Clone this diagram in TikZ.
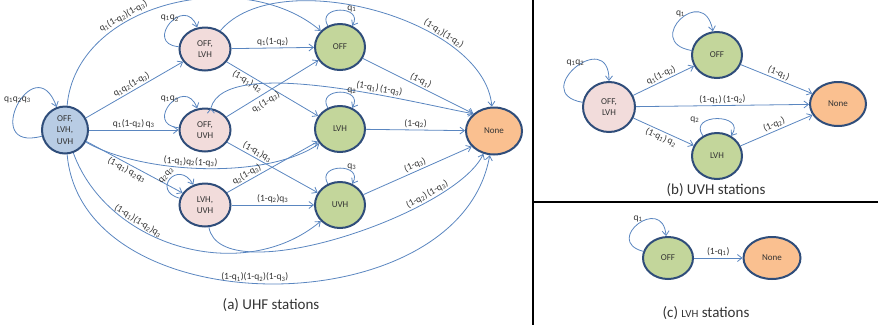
\documentclass[tikz,border=0pt]{standalone}
\usepackage{fontspec}
\setmainfont{Carlito}
\usetikzlibrary{arrows.meta,shapes.geometric}
\definecolor{rim}{HTML}{2F4D7A}
\definecolor{wire}{HTML}{5A86C0}
\definecolor{fillall}{HTML}{B8CCE4}
\definecolor{fillpair}{HTML}{F2DCDB}
\definecolor{fillone}{HTML}{C3D69B}
\definecolor{fillnone}{HTML}{FAC090}
\newcommand{\qs}[1]{q\textsubscript{#1}}

\begin{document}
\begin{tikzpicture}[x=1pt,y=-1pt,>={Straight Barb[length=4.5pt,width=7pt]}]
    \tikzset{state/.style={draw=rim, ellipse, line width=2pt, align=center, inner sep=0pt, text=black!80, font=\fontsize{9}{11.5}\selectfont},
    all/.style={state, fill=fillall, minimum width=46, minimum height=47},
    pair/.style={state, fill=fillpair, minimum width=51, minimum height=43},
    one/.style={state, fill=fillone, minimum width=50, minimum height=46},
    empty/.style={state, fill=fillnone, minimum width=56, minimum height=47},
    caption/.style={text=black!80, font=\fontsize{15}{18}\selectfont},
    }
    \useasboundingbox (0,0) rectangle (878,325);
    %% (a) UHF stations
    \node [all]  (a123) at (65,130) {OFF,\\LVH,\\UVH};
    \node [pair] (a12) at (205,49) {OFF,\\LVH};
    \node [pair] (a13) at (205,130) {OFF,\\UVH};
    \node [pair] (a23) at (205,205) {LVH,\\UVH};
    \node [one]  (aoff) at (340,47) {OFF};
    \node [one]  (alvh) at (340,129) {LVH};
    \node [one]  (auvh) at (340,205) {UVH};
    \node [empty] (anone) at (494,131) {None};
    \node [caption] (acap) at (271,305) {(a) UHF stations};
    %% (b) UVH stations
    \node [pair, minimum width=52, minimum height=50] (b12) at (609,107) {OFF,\\LVH};
    \node [one]  (boff) at (717,55) {OFF};
    \node [one]  (blvh) at (717,156) {LVH};
    \node [empty, minimum height=44] (bnone) at (838,104) {None};
    \node [caption] (bcap) at (716,190) {(b) UVH stations};
    %% (c) LVH stations
    \node [one, minimum height=42] (coff) at (668,258) {OFF};
    \node [empty, minimum width=57, minimum height=42] (cnone) at (772,258) {None};
    \node [caption] (ccap) at (706,313) {(c) {\fontsize{11}{13}\selectfont LVH} stations};
    %% panel borders
    \draw[line width=2pt] (533,0) -- (533,325) (533,202) -- (878,202);

% paths
    \path[draw=wire, ->, line width=0.8pt, every node/.style={sloped, anchor=south, auto=false, inner sep=1.5pt, text=black!80, font=\fontsize{9.5}{11}\selectfont}]
                (a123) edge[out=195, in=110, min distance=65] node[sloped=false] {\qs1\qs2\qs3} (a123)
                (a123) edge node {\qs1\qs2(1-\qs3)} (a12)
                (a123) edge[out=85, in=140] node[pos=0.36] {\qs1(1-\qs2)(1-\qs3)} (aoff)
                (a123) edge node {\qs1(1-\qs2)\,\qs3} (a13)
                (a123) edge[out=-30, in=215, looseness=0.7] node[pos=0.45] {(1-\qs1)\qs2(1-\qs3)} (alvh)
                (a123) edge node[anchor=north, pos=0.45] {(1-\qs1)\,\qs2\qs3} (a23)
                (a123) edge[out=-70, in=220] node[pos=0.33] {(1-\qs1)(1-\qs2)\qs3} (auvh)
                (a123) edge[out=-85, in=-100, looseness=1.05] node[pos=0.47, sloped=false] {(1-\qs1)(1-\qs2)(1-\qs3)} (anone)
                (a12) edge[out=175, in=110, min distance=36] node[sloped=false] {\qs1\qs2} (a12)
                (a12) edge node {\qs1(1-\qs2)} (aoff)
                (a12) edge node[anchor=north, pos=0.26] {(1-\qs1)\,\qs2} (alvh)
                (a12) edge[out=50, in=95, looseness=0.8] node[pos=0.7] {(1-\qs1)(1-\qs2)} (anone)
                (a13) edge[out=175, in=110, min distance=36] node[sloped=false] {\qs1\qs3} (a13)
                (a13) edge node[anchor=north, pos=0.38, yshift=-2pt] {\qs1(1-\qs3)} (aoff)
                (a13) edge node[pos=0.3] {(1-\qs1)\qs3} (auvh)
                (a13.75) edge[out=75, in=170, looseness=0.55] node[pos=0.65] {(1-\qs1)\,(1-\qs3)} (anone.140)
                (a23) edge[out=165, in=120, min distance=30] node {\qs2\qs3} (a23)
                (a23) edge node[pos=0.25] {\qs2(1-\qs3)} (alvh)
                (a23) edge node {(1-\qs2)\qs3} (auvh)
                (a23) edge[out=-80, in=-115, looseness=0.6] node[pos=0.75] {(1-\qs2)\,(1-\qs3)} (anone)
                (aoff) edge[out=120, in=60, min distance=24] node[pos=0.75, sloped=false] {\qs1} (aoff)
                (alvh) edge[out=120, in=60, min distance=24] node[pos=0.75, sloped=false] {\qs2} (alvh)
                (auvh) edge[out=120, in=60, min distance=24] node[pos=0.75, sloped=false] {\qs3} (auvh)
                (aoff) edge node {(1-\qs1)} (anone.140)
                (alvh) edge node {(1-\qs2)} (anone)
                (auvh) edge node {(1-\qs3)} (anone.215)
                (b12) edge[out=170, in=90, min distance=55] node[sloped=false] {\qs1\qs2} (b12)
                (b12) edge node {\qs1(1-\qs2)} (boff)
                (b12) edge node {(1-\qs1)\,(1-\qs2)} (bnone)
                (b12) edge node[anchor=north] {(1-\qs1)\,\qs2} (blvh)
                (boff) edge[out=170, in=100, min distance=50] node[sloped=false] {\qs1} (boff)
                (blvh) edge[out=125, in=55, min distance=28] node[pos=0.2, anchor=south east, sloped=false] {\qs2} (blvh)
                (boff) edge node {(1-\qs1)} (bnone)
                (blvh) edge node {(1-\qs2)} (bnone)
                (coff) edge[out=165, in=95, min distance=42] node[sloped=false] {\qs1} (coff)
                (coff) edge node {(1-\qs1)} (cnone)
                ;
\end{tikzpicture}
\end{document}
